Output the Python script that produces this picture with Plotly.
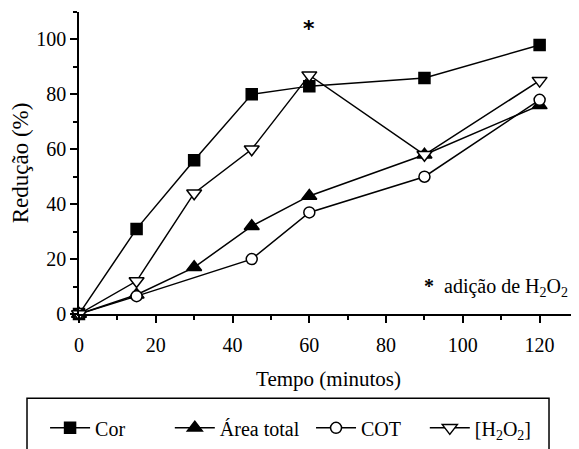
import plotly.graph_objects as go

cor_x = [0, 15, 30, 45, 60, 90, 120]
cor_y = [0, 31, 56, 80, 83, 86, 98]
area_x = [0, 15, 30, 45, 60, 90, 120]
area_y = [0, 7, 17, 32, 43, 58, 76]
cot_x = [0, 15, 45, 60, 90, 120]
cot_y = [0, 6.5, 20, 37, 50, 78]
h2o2_x = [0, 15, 30, 45, 60, 90, 120]
h2o2_y = [0, 12, 44, 60, 87, 58, 85]

FONT = "Liberation Serif, Times New Roman, serif"
FS = 20
fig = go.Figure()

legend_x = {"legend": -0.068, "legend2": 0.182, "legend3": 0.465, "legend4": 0.693}

def add(x, y, name, symbol, size, legend, fill=True):
    fig.add_trace(go.Scatter(
        x=x, y=y, name=name, mode="lines+markers", legend=legend,
        line=dict(color="black", width=1.5),
        marker=dict(symbol=symbol, size=size, color="black" if fill else "white",
                    line=dict(color="black", width=1.5)),
        cliponaxis=False))

add(cor_x, cor_y, "Cor", "square", 11, "legend")
add(area_x, area_y, "Área total", "triangle-up", 13, "legend2")
add(cot_x, cot_y, "COT", "circle", 11, "legend3", fill=False)
add(h2o2_x, h2o2_y, "[H<sub>2</sub>O<sub>2</sub>]", "triangle-down", 13, "legend4", fill=False)

fig.add_annotation(x=60, y=104, text="<b>*</b>", showarrow=False,
                   font=dict(family="DejaVu Sans", size=22, color="black"))
fig.add_annotation(x=89.3, y=9.7, xanchor="left", yanchor="middle",
                   text="<b>*</b>  adição de H<sub>2</sub>O<sub>2</sub>",
                   showarrow=False, font=dict(family=FONT, size=FS, color="black"))

# legend frame
fig.add_shape(type="rect", xref="paper", yref="paper", x0=-0.1042, x1=0.9419,
              y0=-0.7, y1=-0.279, line=dict(color="black", width=1.5),
              fillcolor="rgba(0,0,0,0)", layer="above")

axis_common = dict(showgrid=False, zeroline=False, showline=True, automargin=False,
                   linecolor="black", linewidth=1.5, ticks="outside", ticklen=7,
                   tickwidth=1.5, tickcolor="black",
                   tickfont=dict(family=FONT, size=FS, color="black"))

leg_common = dict(orientation="h", y=-0.377, xanchor="left", yanchor="middle",
                  borderwidth=0, bgcolor="rgba(0,0,0,0)",
                  font=dict(family=FONT, size=FS, color="black"), itemwidth=40)

fig.update_layout(
    width=571, height=441,
    margin=dict(l=71, r=1, t=4, b=132),
    paper_bgcolor="white", plot_bgcolor="white",
    font=dict(family=FONT, size=FS, color="black"),
    showlegend=True,
    legend=dict(x=legend_x["legend"], **leg_common),
    legend2=dict(x=legend_x["legend2"], **leg_common),
    legend3=dict(x=legend_x["legend3"], **leg_common),
    legend4=dict(x=legend_x["legend4"], **leg_common),
    xaxis=dict(range=[0, 130], tickvals=[0, 20, 40, 60, 80, 100, 120], ticklabelstandoff=5,
               minor=dict(tickvals=[10, 30, 50, 70, 90, 110, 130], ticklen=4, tickwidth=1.5, tickcolor="black", ticks="outside"),
               title=dict(text="Tempo (minutos)", standoff=17, font=dict(family=FONT, size=21)),
               **axis_common),
    yaxis=dict(range=[0, 110], tickvals=[0, 20, 40, 60, 80, 100],
               minor=dict(tickvals=[10, 30, 50, 70, 90, 110], ticklen=4, tickwidth=1.5, tickcolor="black", ticks="outside"),
               title=dict(text="Redução (%)", standoff=10, font=dict(family=FONT, size=23)),
               **axis_common),
)

fig.write_html("out.html")
